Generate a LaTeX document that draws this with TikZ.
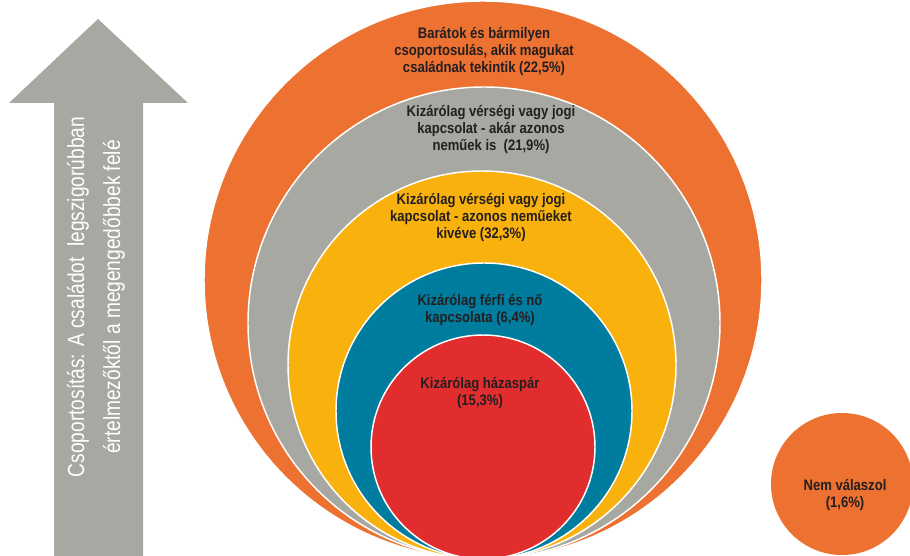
\documentclass[tikz,border=0pt]{standalone}
\usepackage{fontspec}
\setmainfont{Liberation Sans}
\newfontfamily\condfont[FakeStretch=0.86]{Liberation Sans}
\newfontfamily\nyilfont[FakeStretch=0.82]{Liberation Sans}
\usepackage{tikz}
\usepackage{xcolor}
\definecolor{korNarancs}{RGB}{237,113,49}
\definecolor{korSzurke}{RGB}{168,168,163}
\definecolor{korSarga}{RGB}{249,178,13}
\definecolor{korKek}{RGB}{0,124,158}
\definecolor{korPiros}{RGB}{226,45,47}
\definecolor{szoveg}{RGB}{35,31,32}
\tikzset{every picture/.style={line width=0.75pt}}
\tikzset{
  kor/.style={draw=white, line width=1.1pt},
  kortext/.style={align=center, text=szoveg, inner sep=0pt,
    font=\condfont\bfseries\fontsize{11.4}{12.75}\selectfont},
  nyiltext/.style={align=center, text=white, rotate=90, inner sep=0pt,
    font=\nyilfont\fontsize{17.5}{27}\selectfont}
}

\begin{document}
\begin{tikzpicture}[x=0.75pt,y=0.75pt,yscale=-1,xscale=1]
\clip (0,0) rectangle (910,556);
\fill [white] (0,0) rectangle (910,556);

%Shape: Arrow
\fill [korSzurke] (54,560) -- (54,103) -- (9,103) -- (98,19) -- (188,103) -- (143,103) -- (143,560) -- cycle ;

%Shape: Circle
\draw [kor, fill=korNarancs] (483,280) circle [radius=279] ;
%Shape: Circle
\draw [kor, fill=korSzurke] (484,323) circle [radius=236] ;
%Shape: Circle
\draw [kor, fill=korSarga] (482,365) circle [radius=194] ;
%Shape: Circle
\draw [kor, fill=korKek] (484,411) circle [radius=148] ;
%Shape: Circle
\draw [kor, fill=korPiros] (483,447) circle [radius=112] ;
%Shape: Circle
\fill [korNarancs] (842,484) circle [radius=71] ;

% Text Node
\draw (96,297) node (irany) [nyiltext] {Csoportosítás: A családot\ \ legszigorúbban\\értelmezőktől a megengedőbbek felé};
% Text Node
\draw (484,52) node (barat) [kortext] {Barátok és bármilyen\\csoportosulás, akik magukat\\családnak tekintik (22,5\%)};
% Text Node
\draw (491,130) node (akar) [kortext] {Kizárólag vérségi vagy jogi\\kapcsolat - akár azonos\\neműek is\ \ (21,9\%)};
% Text Node
\draw (481,218) node (kiveve) [kortext] {Kizárólag vérségi vagy jogi\\kapcsolat - azonos neműeket\\kivéve (32,3\%)};
% Text Node
\draw (480,310) node (ferfino) [kortext] {Kizárólag férfi és nő\\kapcsolata (6,4\%)};
% Text Node
\draw (480,393) node (hazas) [kortext] {Kizárólag házaspár\\(15,3\%)};
% Text Node
\draw (845,495) node (nemval) [kortext] {Nem válaszol\\(1,6\%)};

\end{tikzpicture}
\end{document}
